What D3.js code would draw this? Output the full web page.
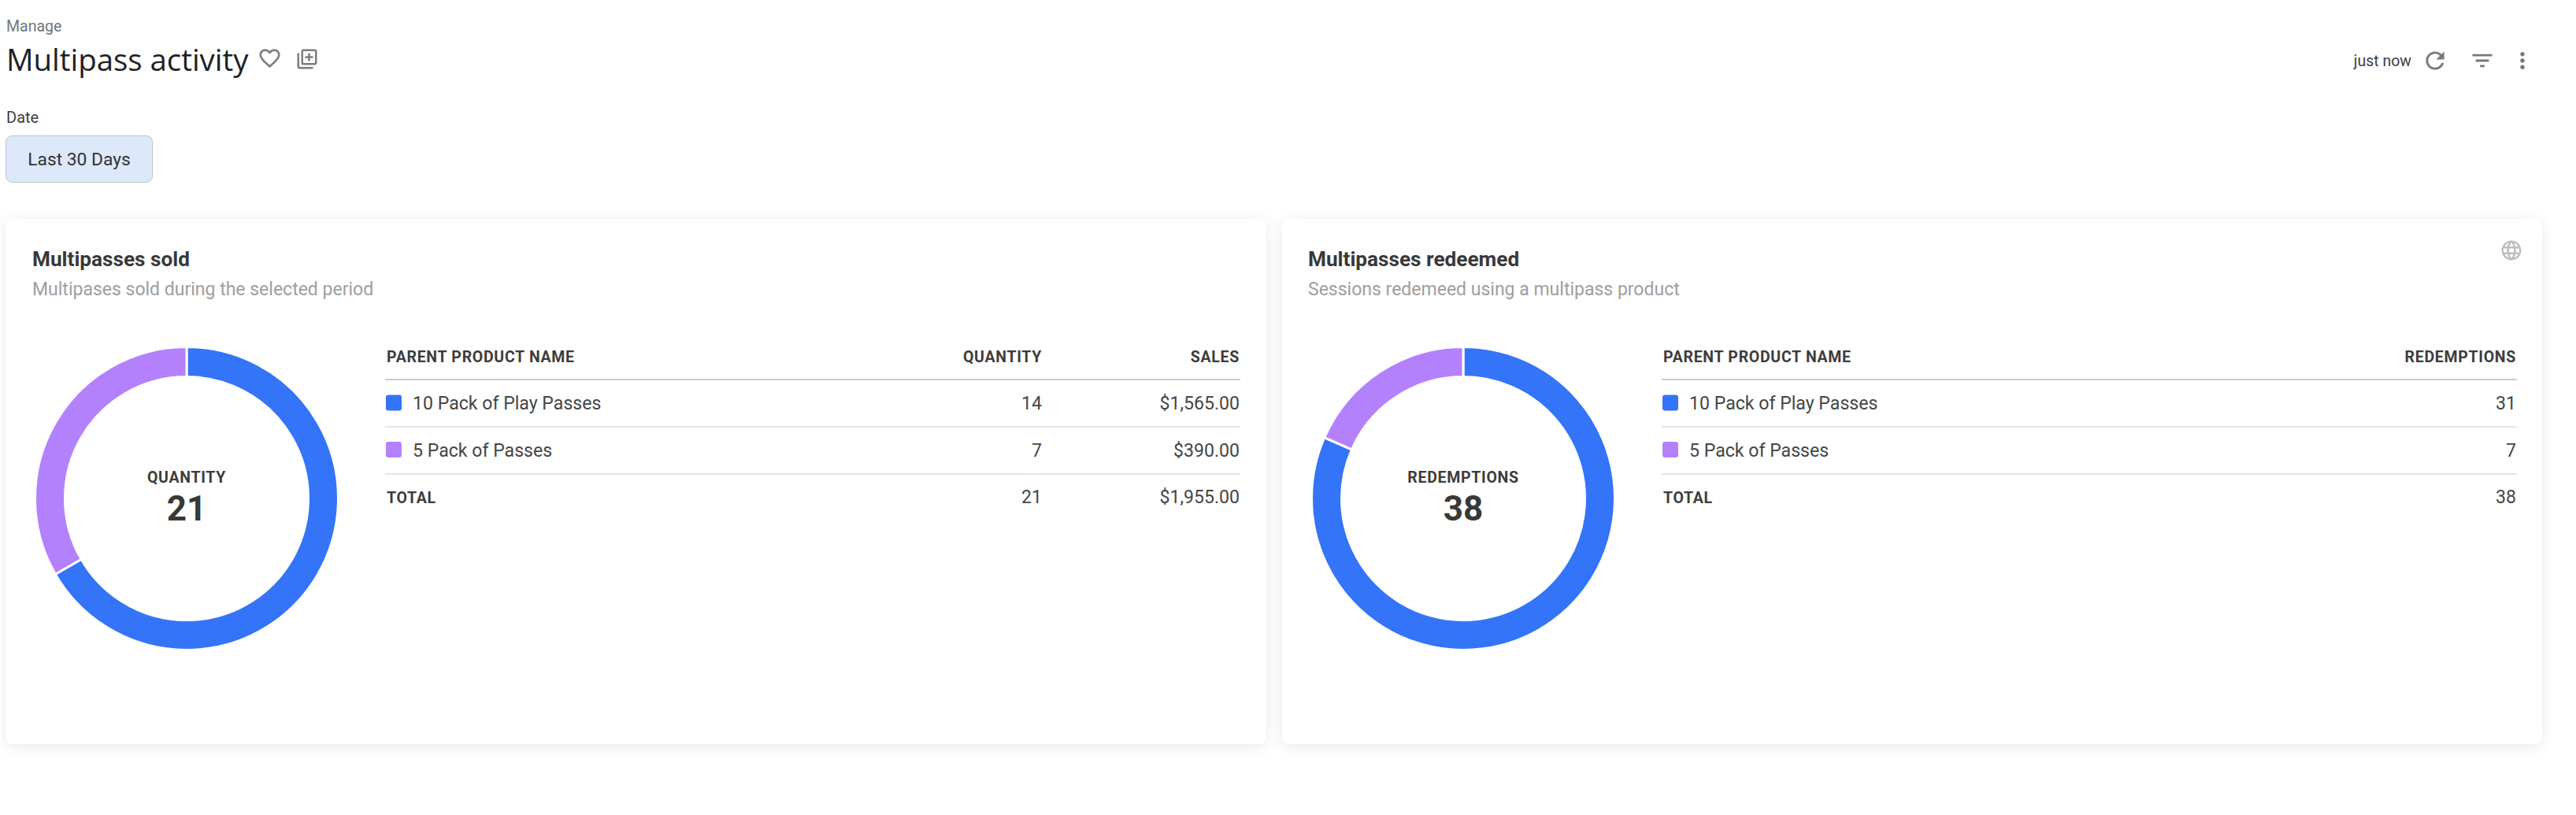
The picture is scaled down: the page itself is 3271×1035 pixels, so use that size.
<!DOCTYPE html>
<html><head><meta charset="utf-8">
<script src="https://cdn.jsdelivr.net/npm/d3@7"></script>
<style>
html,body{margin:0;padding:0;background:#fff;overflow:hidden}
svg{display:block}
text{font-family:Roboto,sans-serif}
</style></head><body><div id="chart"></div>
<script>
const products=["10 Pack of Play Passes","5 Pack of Passes"];
const soldQuantity=[14,7];
const soldSales=[1565,390];
const redemptions=[31,7];
const colors=["#3374f9","#b481fd"];
const W=3271,H=1035;
const ICONS={
heart:"M16.5 3c-1.74 0-3.41.81-4.5 2.09C10.91 3.81 9.24 3 7.5 3 4.42 3 2 5.42 2 8.5c0 3.78 3.4 6.86 8.55 11.54L12 21.35l1.45-1.32C18.6 15.36 22 12.28 22 8.5 22 5.42 19.58 3 16.5 3zm-4.4 15.55l-.1.1-.1-.1C7.14 14.24 4 11.39 4 8.5 4 6.5 5.5 5 7.5 5c1.54 0 3.04.99 3.57 2.36h1.87C13.46 5.99 14.96 5 16.5 5c2 0 3.5 1.5 3.5 3.5 0 2.89-3.14 5.74-7.9 10.05z",
lib:"M4 6H2v14c0 1.1.9 2 2 2h14v-2H4V6zm16-4H8c-1.1 0-2 .9-2 2v12c0 1.1.9 2 2 2h12c1.1 0 2-.9 2-2V4c0-1.1-.9-2-2-2zm0 14H8V4h12v12zm-7-2h2v-3h3V9h-3V6h-2v3h-3v2h3z",
refresh:"M17.65 6.35C16.2 4.9 14.21 4 12 4c-4.42 0-7.99 3.58-7.99 8s3.57 8 7.99 8c3.73 0 6.84-2.55 7.73-6h-2.08c-.82 2.33-3.04 4-5.65 4-3.31 0-6-2.69-6-6s2.69-6 6-6c1.66 0 3.14.69 4.22 1.78L13 11h7V4l-2.35 2.35z",
filter:"M10 18h4v-2h-4v2zM3 6v2h18V6H3zm3 7h12v-2H6v2z",
more:"M12 8c1.1 0 2-.9 2-2s-.9-2-2-2-2 .9-2 2 .9 2 2 2zm0 2c-1.1 0-2 .9-2 2s.9 2 2 2 2-.9 2-2-.9-2-2-2zm0 6c-1.1 0-2 .9-2 2s.9 2 2 2 2-.9 2-2-.9-2-2-2z",
globe:"M11.99 2C6.47 2 2 6.48 2 12s4.47 10 9.99 10C17.52 22 22 17.52 22 12S17.52 2 11.99 2zm6.93 6h-2.95c-.32-1.25-.78-2.45-1.38-3.56 1.84.63 3.37 1.91 4.33 3.56zM12 4.04c.83 1.2 1.48 2.53 1.91 3.96h-3.82c.43-1.43 1.08-2.76 1.91-3.96zM4.26 14C4.1 13.36 4 12.69 4 12s.1-1.36.26-2h3.38c-.08.66-.14 1.32-.14 2 0 .68.06 1.34.14 2H4.26zm.82 2h2.95c.32 1.25.78 2.45 1.38 3.56-1.84-.63-3.37-1.9-4.33-3.56zm2.95-8H5.08c.96-1.66 2.49-2.93 4.33-3.56C8.81 5.55 8.35 6.75 8.03 8zM12 19.96c-.83-1.2-1.48-2.53-1.91-3.96h3.82c-.43 1.43-1.08 2.76-1.91 3.96zM14.34 14H9.66c-.09-.66-.16-1.32-.16-2 0-.68.07-1.35.16-2h4.68c.09.65.16 1.32.16 2 0 .68-.07 1.34-.16 2zm.25 5.56c.6-1.11 1.06-2.31 1.38-3.56h2.95c-.96 1.65-2.49 2.93-4.33 3.56zM16.36 14c.08-.66.14-1.32.14-2 0-.68-.06-1.34-.14-2h3.38c.16.64.26 1.31.26 2s-.1 1.36-.26 2h-3.38z"};
const svg=d3.select("#chart").append("svg").attr("width",W).attr("height",H);
const defs=svg.append("defs");
const f=defs.append("filter").attr("id","sh").attr("x","-5%").attr("y","-10%").attr("width","110%").attr("height","120%");
f.append("feDropShadow").attr("dx",0).attr("dy",3).attr("stdDeviation",8).attr("flood-color","#000").attr("flood-opacity",0.09);
function txt(g,x,y,s,size,col,weight,anchor,ls){
  return g.append("text").attr("x",x).attr("y",y).text(s).attr("font-size",size).attr("fill",col)
   .attr("font-weight",weight||400).attr("text-anchor",anchor||"start").attr("letter-spacing",ls||null);
}
function icon(name,cx,cy,sc,col){
  svg.append("path").attr("d",ICONS[name]).attr("fill",col)
   .attr("transform",`translate(${cx},${cy}) scale(${sc}) translate(-12,-12)`);
}
txt(svg,8,40,"Manage",19.5,"#70757a");
txt(svg,8,90,"Multipass activity",38.4,"#202124",400).style("font-family","'Open Sans',sans-serif");
icon("heart",342.5,74,1.3,"#7a7d81");
icon("lib",390,75,1.25,"#7a7d81");
txt(svg,8,156,"Date",20,"#3c4043");
svg.append("rect").attr("x",7.5).attr("y",172.5).attr("width",186).attr("height",59).attr("rx",8)
  .attr("fill","#dde8fb").attr("stroke","#bdc1c6");
txt(svg,100.5,210,"Last 30 Days",22.8,"#303438",400,"middle");
txt(svg,3062,84,"just now",19.5,"#3c4043",400,"end");
icon("refresh",3092,77,1.45,"#75787c");
icon("filter",3152,77,1.39,"#75787c");
icon("more",3203,77,1.38,"#75787c");

function card(o){
  const g=svg.append("g");
  g.append("rect").attr("x",o.x0).attr("y",278).attr("width",o.x1-o.x0).attr("height",667).attr("rx",9)
    .attr("fill","#fff").attr("filter","url(#sh)");
  txt(g,o.tx,338,o.title,26.2,"#383838",700);
  txt(g,o.tx,375,o.sub,23,"#9e9e9e");
  // donut
  const pie=d3.pie().sort(null).value(d=>d)(o.values);
  const arc=d3.arc().innerRadius(154.5).outerRadius(192.5);
  const dg=g.append("g").attr("transform",`translate(${o.cx},633)`);
  dg.selectAll("path").data(pie).join("path").attr("d",arc)
    .attr("fill",(d,i)=>colors[i]).attr("stroke","#fff").attr("stroke-width",3);
  txt(g,o.cx,613,o.measure,19.5,"#3c3c3c",700,"middle",0.7);
  txt(g,o.cx,661,String(d3.sum(o.values)),44,"#383838",700,"middle");
  // table
  const x=o.tableX, r=o.tableR;
  const y=d3.scalePoint().domain(d3.range(3)).range([520,639]);
  txt(g,x+2,460,"PARENT PRODUCT NAME",19.5,"#3c3c3c",700,"start",0.7);
  g.append("line").attr("x1",x).attr("x2",r).attr("y1",482).attr("y2",482).attr("stroke","#ccc").attr("stroke-width",2);
  [542,602].forEach(v=>g.append("line").attr("x1",x).attr("x2",r).attr("y1",v).attr("y2",v).attr("stroke","#ccc").attr("stroke-width",1));
  products.forEach((p,i)=>{
    g.append("rect").attr("x",x+1).attr("y",y(i)-18.5).attr("width",20).attr("height",20).attr("rx",3).attr("fill",colors[i]);
    txt(g,x+35,y(i),p,23.1,"#454545");
  });
  txt(g,x+2,y(2),"TOTAL",19.5,"#3c3c3c",700,"start",0.7);
  o.cols.forEach(c=>{
    txt(g,c.right,460,c.head,19.5,"#3c3c3c",700,"end",0.7);
    c.vals.forEach((v,i)=>txt(g,c.right,y(i),c.fmt(v),23.1,"#454545",400,"end"));
    txt(g,c.right,y(2),c.fmt(d3.sum(c.vals)),23.1,"#454545",400,"end");
  });
}
const money=d3.format("$,.2f");
const plain=String;
card({x0:7,x1:1608,tx:41,cx:237,title:"Multipasses sold",sub:"Multipases sold during the selected period",
  values:soldQuantity,measure:"QUANTITY",tableX:489,tableR:1575,
  cols:[{head:"QUANTITY",right:1323,vals:soldQuantity,fmt:plain},{head:"SALES",right:1574,vals:soldSales,fmt:money}]});
card({x0:1628,x1:3228,tx:1661,cx:1858,title:"Multipasses redeemed",sub:"Sessions redemeed using a multipass product",
  values:redemptions,measure:"REDEMPTIONS",tableX:2110,tableR:3196,
  cols:[{head:"REDEMPTIONS",right:3195,vals:redemptions,fmt:plain}]});
icon("globe",3189,318,1.25,"#bdbfc2");
</script></body></html>
